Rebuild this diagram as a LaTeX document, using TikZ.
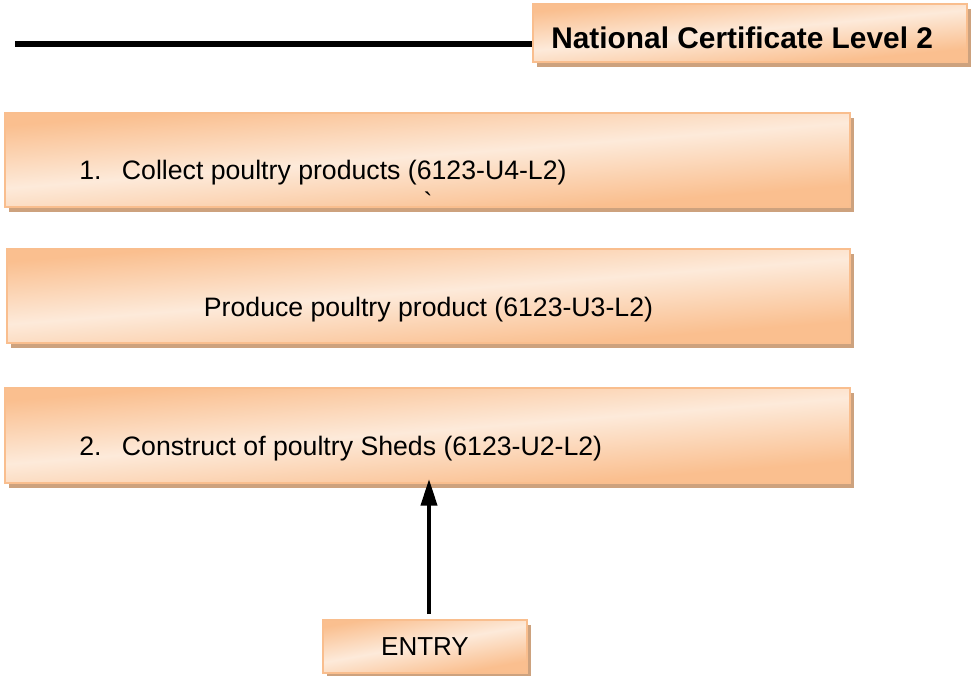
\documentclass[tikz,border=0pt]{standalone}
\usepackage{fontspec}
\setmainfont{Liberation Sans}
\usetikzlibrary{arrows.meta,shadows}

\definecolor{peachline}{RGB}{249,190,142}
\definecolor{shadowtan}{RGB}{205,162,126}

% pale band running from the upper left to the lower right, peach in the other corners
\pgfdeclarefunctionalshading{slantband}{\pgfpoint{-50bp}{-50bp}}{\pgfpoint{50bp}{50bp}}{}{
  25 add 50 div
  exch 25 add 50 div
  0.7 mul 0.2 add
  sub abs 1.5 mul
  dup 1 gt {pop 1} if
  dup -0.012 mul 0.992 add exch
  dup -0.169 mul 0.918 add exch
  -0.294 mul 0.855 add
}

\begin{document}
\begin{tikzpicture}[x=0.75pt,y=-0.75pt,
    unitbox/.style={rectangle, draw=peachline, line width=1.5pt,
        shade, shading=slantband,
        general shadow={fill=shadowtan, shadow xshift=3pt, shadow yshift=-4pt}},
    unittext/.style={inner sep=0pt, anchor=west, font=\fontsize{20}{24}\selectfont}]
    \useasboundingbox (0,0) rectangle (974,675);

    % heading with rule
    \coordinate (rule) at (15,44);
    \node[unitbox, minimum width=325.5pt, minimum height=43.5pt] (level) at (750,33) {};
    \node[unittext, font=\fontsize{22.4}{27}\selectfont\bfseries] (leveltxt)
        at ([shift={(19,5)}]level.west) {National Certificate Level 2};
    \draw[line width=4.5pt] (rule) -- (rule -| level.west);

    % units
    \node[unitbox, minimum width=633.75pt, minimum height=70.5pt] (u4) at (427.5,160) {};
    \node[unittext] (u4txt) at ([shift={(75,13)}]u4.west) {\makebox[32pt][l]{1.}Collect poultry products (6123-U4-L2)};
    \node[unittext, anchor=north] (tick) at (428,192) {\textasciigrave};

    \node[unitbox, minimum width=632.25pt, minimum height=70.5pt] (u3) at (428.5,296) {};
    \node[unittext, anchor=center] (u3txt) at ([yshift=-10pt]u3.center) {Produce poultry product (6123-U3-L2)};

    \node[unitbox, minimum width=633.75pt, minimum height=71.25pt] (u2) at (427.5,435.5) {};
    \node[unittext] (u2txt) at ([shift={(75,13)}]u2.west) {\makebox[32pt][l]{2.}Construct of poultry Sheds (6123-U2-L2)};

    % entry
    \node[unitbox, minimum width=153pt, minimum height=39.75pt,
        font=\fontsize{19.5}{23}\selectfont] (entry) at (425,646.5) {ENTRY};
    \draw[line width=3pt, -{Triangle[length=20pt,width=12pt]}]
        ([shift={(4,-5)}]entry.north) -- ([shift={(4,-5)}]entry.north |- u2.south);
\end{tikzpicture}
\end{document}
